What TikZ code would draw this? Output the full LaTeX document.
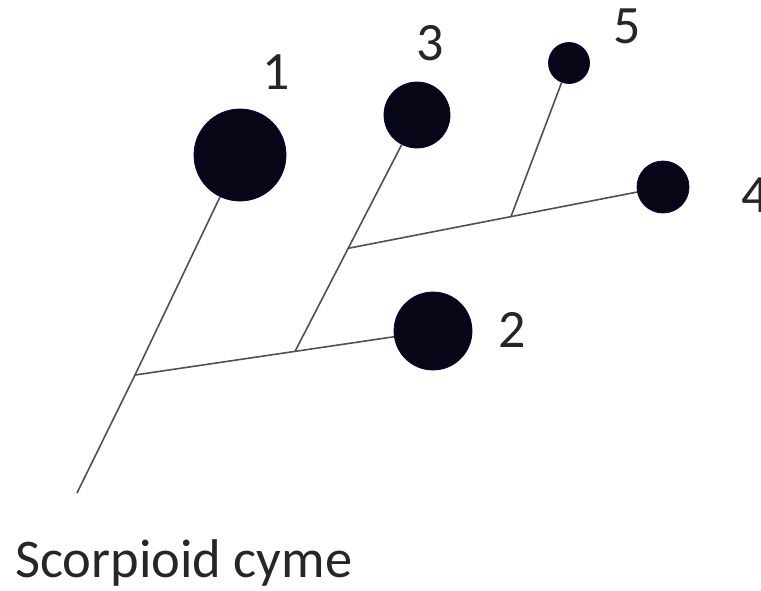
\documentclass[tikz,border=0pt]{standalone}
\usepackage{fontspec}
\setmainfont{Carlito}
\usepackage{xcolor}
\usepackage{tikz}
\usetikzlibrary{calc}
\definecolor{inkdark}{RGB}{6,6,22}
\definecolor{stemgray}{RGB}{80,80,80}
\tikzset{
  px/.style={x=1pt, y=-1pt},
  s flower/.style={circle, fill=inkdark, draw=inkdark!80!blue, line width=0.8pt, inner sep=0pt},
  s stem/.style={draw=stemgray, line width=1.6pt},
  s num/.style={inner sep=0pt, text=black!85, font=\fontsize{54}{60}\selectfont},
  s title/.style={inner sep=0pt, anchor=base west, text=black!85, font=\fontsize{54.5}{60}\selectfont},
}
\begin{document}
\begin{tikzpicture}[px]
\useasboundingbox (0,0) rectangle (761,590);
\clip (0,0) rectangle (761,590);
% ---- flowers ----
\node[s flower, minimum size=92pt] (f1) at (240,155) {};
\node[s flower, minimum size=78pt] (f2) at (433,331) {};
\node[s flower, minimum size=66pt] (f3) at (417,115) {};
\node[s flower, minimum size=52pt] (f4) at (663,187) {};
\node[s flower, minimum size=41pt] (f5) at (569,63) {};
% ---- branching points ----
\coordinate (base) at (77,493);
\coordinate (j1) at (135,375);
\coordinate (j2) at ($(j1)!0.537!(f2.center)$);
\coordinate (j3) at ($(j2)!0.436!(f3.center)$);
\coordinate (j4) at ($(j3)!0.517!(f4.center)$);
% ---- stems ----
\draw[s stem] (base) -- (j1) -- (f1);
\draw[s stem] (j1) -- (f2); \draw[s stem] (j2) -- (f3);
\draw[s stem] (j3) -- (f4); \draw[s stem] (j4) -- (f5);
% ---- labels ----
\node[s num] (n1) at (276,72) {1};
\node[s num] (n2) at (512,330) {2};
\node[s num] (n3) at (430,43) {3};
\node[s num] (n4) at (755,195) {4};
\node[s num] (n5) at (627,26) {5};
\node[s title] (cap) at (15,577) {Scorpioid cyme};
\end{tikzpicture}
\end{document}
